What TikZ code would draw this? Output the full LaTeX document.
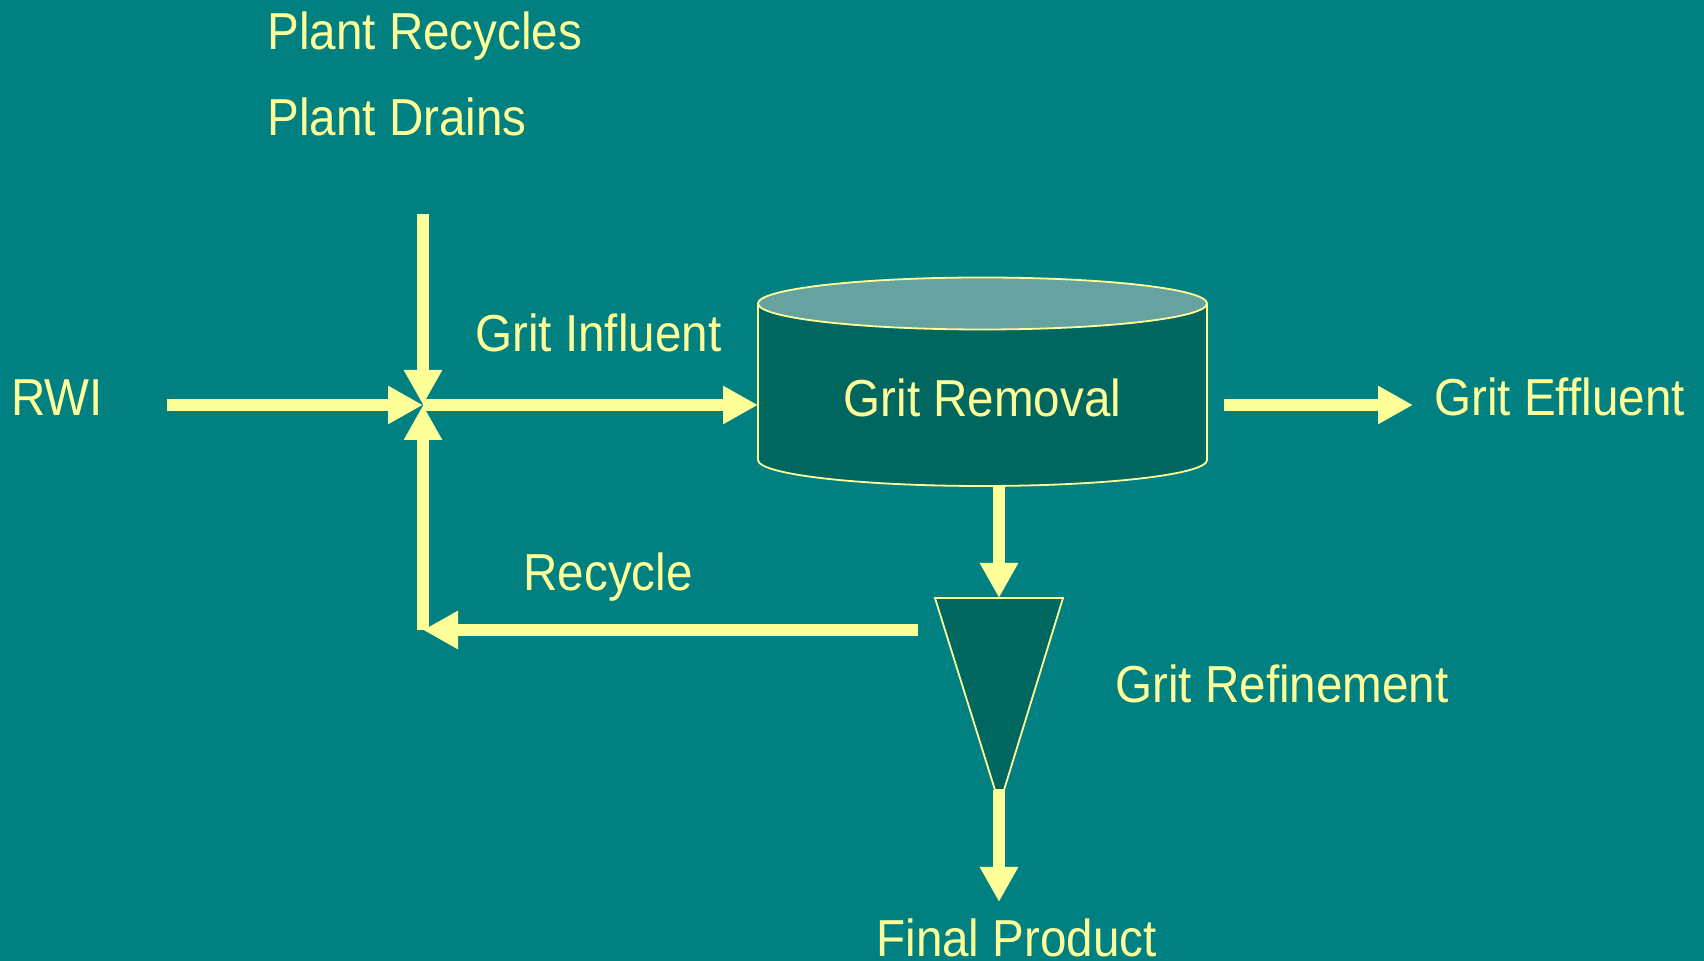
\documentclass[tikz,border=0pt]{standalone}
\usepackage{fontspec}
\setmainfont[FakeStretch=0.915]{Liberation Sans}
\usetikzlibrary{arrows.meta}
\definecolor{bg}{RGB}{0,128,128}
\definecolor{dark}{RGB}{0,102,96}
\definecolor{lite}{RGB}{102,163,160}
\definecolor{yel}{RGB}{255,255,153}
\begin{document}
\begin{tikzpicture}[x=0.5pt,y=-0.5pt,
  lbl/.style={text=yel,font=\fontsize{26pt}{30pt}\selectfont,inner sep=0pt,anchor=base west},
  flow/.style={draw=yel,line width=6pt,-{Triangle[length=17.5pt,width=18pt]}},
  pipe/.style={draw=yel,line width=6pt},
  vessel/.style={fill=dark,draw=yel,line width=0.9pt}]
\fill[bg] (0,0) rectangle (1704,961);
\useasboundingbox (0,0) rectangle (1704,961);

% labels
\node[lbl] (recy) at (267,50) {Plant Recycles};
\node[lbl] (drains) at (267,136) {Plant Drains};
\node[lbl] (rwi) at (11,416) {RWI};
\node[lbl] (infl) at (475,352) {Grit Influent};
\node[lbl] (effl) at (1434,416) {Grit Effluent};
\node[lbl] (reclbl) at (523,591) {Recycle};
\node[lbl] (refine) at (1115,703) {Grit Refinement};
\node[lbl] (final) at (876,957) {Final Product};

% cylinder (grit removal)
\path[vessel] (758,303.5) -- (758,460) arc[start angle=180,end angle=360,x radius=112.25pt,y radius=13pt] -- (1207,303.5) -- cycle;
\path[vessel,fill=lite] (982.5,303.5) ellipse[x radius=112.25pt,y radius=13pt];
\node[inner sep=0pt,minimum width=224.5pt,minimum height=104pt] (grit) at (982.5,381) {};
\node[lbl,anchor=base] (gritlbl) at (982.5,417) {Grit Removal};

% cone (grit refinement)
\path[vessel] (935,598) -- (1063,598) -- (1004,790) -- (995,790) -- cycle;
\coordinate (conetop) at (999,598);
\coordinate (conetip) at (999,790);

% junction and flow points
\coordinate (J) at (423,405);
\coordinate (Ttop) at (423,214);
\coordinate (Rstart) at (167,405);
\coordinate (Cbot) at (423,630);
\coordinate (Sstart) at (918,630);
\coordinate (gritW) at (758,405);
\coordinate (gritS) at (999,485);
\coordinate (effS) at (1224,405);
\coordinate (effE) at (1413,405);
\coordinate (prodE) at (999,902);

\draw[flow] (Rstart) -- (J);
\draw[flow] (Ttop) -- (J);
\draw[flow] (Cbot) -- (J);
\draw[flow] (J) -- (gritW);
\draw[flow] (Sstart) -- (Cbot);
\draw[flow] (effS) -- (effE);
\draw[flow] (gritS) -- (conetop);
\draw[flow] (conetip) -- (prodE);
\end{tikzpicture}
\end{document}
